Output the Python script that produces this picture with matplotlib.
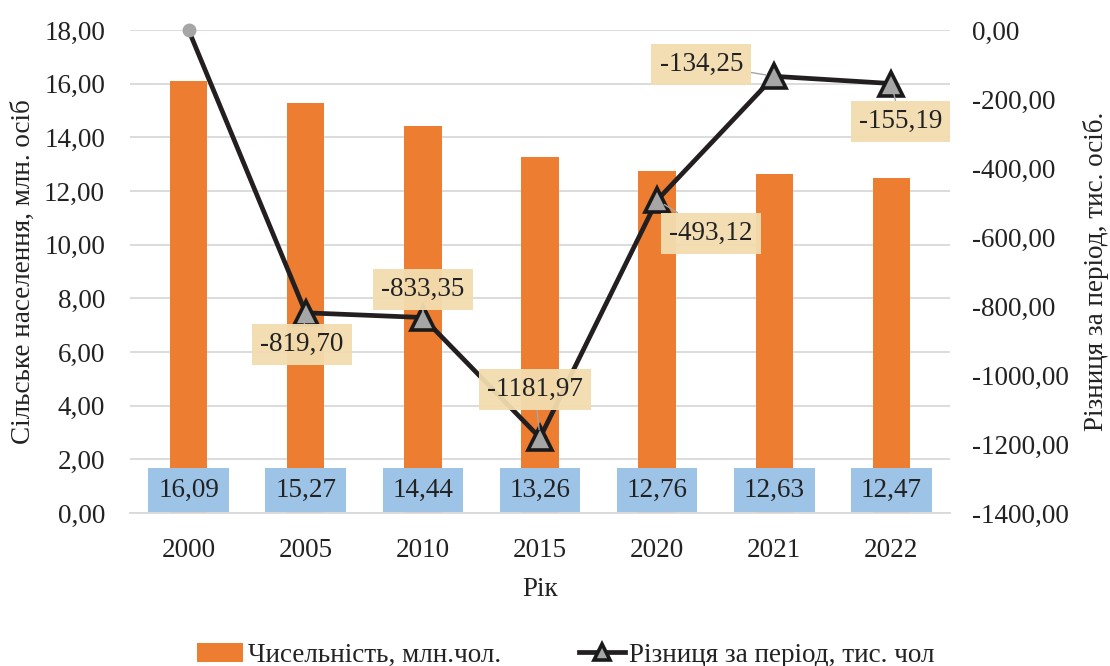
import matplotlib
matplotlib.use("Agg")
import matplotlib.pyplot as plt
import numpy as np

plt.rcParams['font.family'] = ['Liberation Serif', 'DejaVu Serif']

years = ["2000", "2005", "2010", "2015", "2020", "2021", "2022"]
population = [16.09, 15.27, 14.44, 13.26, 12.76, 12.63, 12.47]
difference = [0.0, -819.70, -833.35, -1181.97, -493.12, -134.25, -155.19]
left_ticks = [0, 2, 4, 6, 8, 10, 12, 14, 16, 18]
right_ticks = [0, -200, -400, -600, -800, -1000, -1200, -1400]

FS = 19.5
TC = '#222222'

def fmt(v):
    return f"{v:.2f}".replace(".", ",")

fig = plt.figure(figsize=(11.1, 6.66), dpi=100)
ax1 = fig.add_axes([130/1110, 1-513/666, 820/1110, 483/666])
x = np.arange(len(years))
bars = ax1.bar(x, population, width=0.32, color='#ed7d31', zorder=2,
               label='Чисельність, млн.чол.')
ax1.set_ylim(0, 18)
ax1.set_xlim(-0.5, len(years)-0.5)
ax1.set_yticks(left_ticks)
ax1.set_yticklabels([fmt(t) for t in left_ticks], fontsize=FS, color=TC)
ax1.set_xticks(x)
ax1.set_xticklabels(years, fontsize=FS, color=TC)
ax1.tick_params(axis='y', length=0, pad=18)
ax1.tick_params(axis='x', length=0, pad=18)
ax1.grid(axis='y', color='#d9d9d9', lw=1.3, zorder=0)
ax1.set_axisbelow(True)
for s in ['left', 'right', 'top']:
    ax1.spines[s].set_visible(False)
ax1.spines['bottom'].set_color('#d9d9d9')
ax1.spines['bottom'].set_linewidth(1.3)
ax1.set_ylabel('Сільське населення, млн. осіб', fontsize=FS, color=TC, labelpad=6)
ax1.set_xlabel('Рік', fontsize=FS, color=TC, labelpad=10)

for xi, v in zip(x, population):
    ax1.text(xi, 0.85, fmt(v), ha='center', va='center', fontsize=FS, color=TC,
             bbox=dict(boxstyle='square,pad=0.36', fc='#9dc3e6', ec='none'), zorder=5)

ax2 = ax1.twinx()
ax2.set_ylim(-1400, 0)
ax2.set_yticks(right_ticks)
ax2.set_yticklabels([fmt(t) for t in right_ticks], fontsize=FS, color=TC)
ax2.tick_params(length=0, pad=16)
for s in ['left', 'right', 'top', 'bottom']:
    ax2.spines[s].set_visible(False)
ax2.set_ylabel('Різниця за період, тис. осіб.', fontsize=FS, color=TC, labelpad=10)

line, = ax2.plot(x, difference, color='#231f20', lw=3.4, zorder=3,
                 marker='^', markersize=17, markerfacecolor='#a6a6a6',
                 markeredgecolor='#1a1a1a', markeredgewidth=2.6,
                 markevery=list(range(1, len(years))),
                 label='Різниця за період, тис. чол', clip_on=False)
ax2.plot([x[0]], [difference[0]], marker='o', markersize=9, color='#a6a6a6',
         markeredgecolor='#a6a6a6', zorder=4, lw=0, clip_on=False)

offsets = [None, (-4, -32), (0, 28), (-5, 48), (54, -33), (-73, 12), (9, -38)]
for i in range(1, len(years)):
    dx, dy = offsets[i]
    ax2.annotate(fmt(difference[i]), xy=(x[i], difference[i]), xytext=(dx, dy),
                 textcoords='offset pixels', ha='center', va='center',
                 fontsize=FS, color=TC,
                 bbox=dict(boxstyle='square,pad=0.3', fc='#f3ddb0', ec='none', alpha=0.95),
                 arrowprops=dict(arrowstyle='-', color='#a6a6a6', lw=1, shrinkA=0, shrinkB=6),
                 zorder=6)

fig.legend(handles=[bars, line], labels=['Чисельність, млн.чол.', 'Різниця за період, тис. чол'],
           loc='center', bbox_to_anchor=(0.51, 1-655/666), ncol=2, frameon=False,
           fontsize=FS, handlelength=1.7, columnspacing=2.9, handletextpad=0.15,
           labelcolor=TC, markerscale=0.65)

fig.savefig('out.png', dpi=100)
